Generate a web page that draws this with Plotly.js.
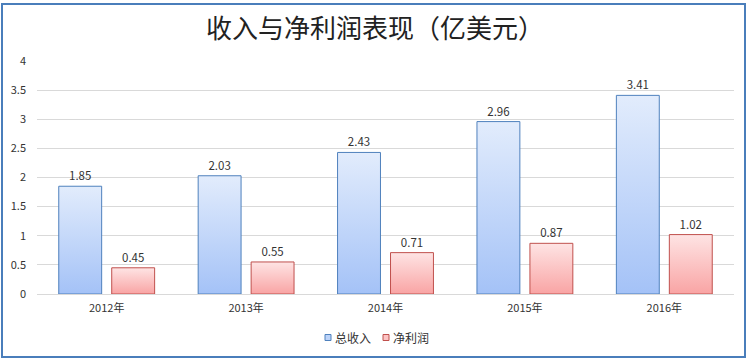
<!DOCTYPE html>
<html>
<head>
<meta charset="utf-8">
<script src="https://cdn.plot.ly/plotly-3.0.1.min.js"></script>
<style>
html,body{margin:0;padding:0;background:#fff;}
#wrap{position:relative;width:750px;height:360px;}
#chart{width:750px;height:360px;}
#frame{position:absolute;left:1px;top:3px;width:741px;height:351px;border:2.5px solid #4a7ebb;pointer-events:none;}
</style>
</head>
<body>
<div id="wrap"><div id="chart"></div><div id="frame"></div></div>
<script>
const categories = ['2012年','2013年','2014年','2015年','2016年'];
const revenue = [1.85, 2.03, 2.43, 2.96, 3.41];
const netProfit = [0.45, 0.55, 0.71, 0.87, 1.02];
const seriesNames = ['总收入','净利润'];
const yTicks = [0,0.5,1,1.5,2,2.5,3,3.5,4];
const yTickText = ['0','0.5','1','1.5','2','2.5','3','3.5','4'];

const FONT = '"Noto Sans CJK SC", "Noto Sans", sans-serif';
const blueFill = '#bcd3f9', blueLine = '#4f81bd';
const redFill = '#fcc4c4', redLine = '#c0504d';

const traces = [
  {type:'bar', name:seriesNames[0], x:categories, y:revenue,
   text:revenue.map(v=>v.toFixed(2)), textposition:'outside', cliponaxis:false,
   textfont:{size:11.5,color:'#333',family:FONT},
   marker:{color:blueFill, line:{color:blueLine,width:1}}},
  {type:'bar', name:seriesNames[1], x:categories, y:netProfit,
   text:netProfit.map(v=>v.toFixed(2)), textposition:'outside', cliponaxis:false,
   textfont:{size:11.5,color:'#333',family:FONT},
   marker:{color:redFill, line:{color:redLine,width:1}}}
];

// legend built as paper-positioned shapes + text (compact Excel-style legend)
const L = 37, PW = 697, T = 61, PH = 233;
const px = v => (v - L) / PW;
const py = v => (T + PH - v) / PH;
const legendItems = [
  {name:seriesNames[0], sx:325, tx:333, fill:blueFill, line:blueLine},
  {name:seriesNames[1], sx:383, tx:391, fill:redFill, line:redLine}
];
const shapes = legendItems.map(it=>({type:'rect', xref:'paper', yref:'paper',
  x0:px(it.sx), x1:px(it.sx+6), y0:py(340.5), y1:py(334.5),
  fillcolor:it.fill, line:{color:it.line,width:1}}));
const annotations = legendItems.map(it=>({xref:'paper', yref:'paper', x:px(it.tx), y:py(337.5),
  xanchor:'left', yanchor:'middle', showarrow:false, text:it.name,
  font:{family:FONT,size:12,color:'#333'}}));

const layout = {
  width:750, height:360,
  margin:{l:L,r:750-L-PW,t:T,b:360-T-PH},
  paper_bgcolor:'#ffffff', plot_bgcolor:'#ffffff',
  font:{family:FONT,size:11,color:'#404040'},
  title:{text:'收入与净利润表现（亿美元）', font:{family:FONT,size:26,color:'#222'}, x:0.5, xanchor:'center', y:0.92, yanchor:'middle'},
  bargap:0.24, bargroupgap:0.19, barmode:'group',
  showlegend:false,
  shapes:shapes, annotations:annotations,
  xaxis:{type:'category', showgrid:false, showline:true, linecolor:'#d9d9d9', linewidth:1, ticks:'', tickfont:{size:11,color:'#333'}, ticklabelstandoff:4, automargin:false},
  yaxis:{range:[0,4], tickvals:yTicks, ticktext:yTickText, showgrid:true, gridcolor:'#d9d9d9', gridwidth:1, zeroline:false, showline:false, ticks:'', tickfont:{size:11,color:'#333'}, ticklabelstandoff:10, fixedrange:true, automargin:false}
};

function applyGradients(gd){
  const svg = gd.querySelector('svg.main-svg');
  if(!svg) return;
  const ns='http://www.w3.org/2000/svg';
  let defs = svg.querySelector('defs');
  if(!defs){defs=document.createElementNS(ns,'defs');svg.insertBefore(defs,svg.firstChild);}
  const grads=[['gradBlue','#e2ecfc','#a4c2f7'],['gradRed','#fee4e4','#f9a4a4']];
  grads.forEach(([id,c1,c2])=>{
    if(defs.querySelector('#'+id)) return;
    const g=document.createElementNS(ns,'linearGradient');
    g.setAttribute('id',id);g.setAttribute('x1','0');g.setAttribute('y1','0');g.setAttribute('x2','0');g.setAttribute('y2','1');
    const s1=document.createElementNS(ns,'stop');s1.setAttribute('offset','0');s1.setAttribute('stop-color',c1);
    const s2=document.createElementNS(ns,'stop');s2.setAttribute('offset','1');s2.setAttribute('stop-color',c2);
    g.appendChild(s1);g.appendChild(s2);defs.appendChild(g);
  });
  const tr = gd.querySelectorAll('.barlayer .trace');
  tr.forEach((t,i)=>{
    t.querySelectorAll('path').forEach(p=>{p.style.fill='url(#'+grads[i][0]+')';});
  });
}

const gd=document.getElementById('chart');
Plotly.newPlot(gd, traces, layout, {displayModeBar:false, staticPlot:true}).then(()=>{
  applyGradients(gd);
  gd.on && gd.on('plotly_afterplot',()=>applyGradients(gd));
});
</script>
</body>
</html>
